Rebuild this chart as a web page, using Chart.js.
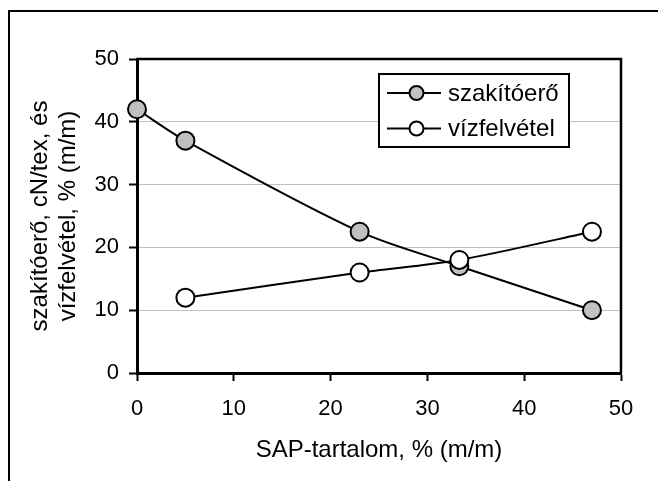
<!DOCTYPE html>
<html>
<head>
<meta charset="utf-8">
<script src="https://cdn.jsdelivr.net/npm/chart.js@4/dist/chart.umd.min.js"></script>
<style>
  html, body { margin: 0; padding: 0; background: #fff; }
  canvas { display: block; }
</style>
</head>
<body>
<canvas id="chart" width="658" height="481"></canvas>
<script>
// data
const sapContent = [0, 5, 23, 33.3, 47];
const tensileForce = [42, 37, 22.5, 17, 10];          // szakítóerő
const waterUptakeX = [5, 23, 33.3, 47];
const waterUptake = [12, 16, 18, 22.5];              // vízfelvétel
const seriesNames = ['szakítóerő', 'vízfelvétel'];
const xTitle = 'SAP-tartalom, % (m/m)';
const yTitle = ['szakítóerő, cN/tex, és', 'vízfelvétel, % (m/m)'];

const FONT = "'Liberation Sans', Arial, sans-serif";
const TICK_SIZE = 22;
const TITLE_SIZE = 24;

const toPoints = (xs, ys) => xs.map((x, i) => ({ x: x, y: ys[i] }));

// frame around the whole picture and the box around the plot area
const framePlugin = {
  id: 'frame',
  beforeDraw(chart) {
    const ctx = chart.ctx;
    ctx.save();
    ctx.fillStyle = '#fff';
    ctx.fillRect(0, 0, chart.width, chart.height);
    ctx.strokeStyle = '#000';
    ctx.lineWidth = 2;
    ctx.beginPath();
    ctx.moveTo(9, chart.height);
    ctx.lineTo(9, 11);
    ctx.lineTo(chart.width, 11);
    ctx.stroke();
    ctx.restore();
  },
  beforeDatasetsDraw(chart) {
    const { ctx, chartArea } = chart;
    ctx.save();
    ctx.strokeStyle = '#000';
    ctx.lineWidth = 2.5;
    ctx.beginPath();
    ctx.moveTo(chartArea.left, chartArea.top);
    ctx.lineTo(chartArea.right, chartArea.top);
    ctx.lineTo(chartArea.right, chartArea.bottom);
    ctx.stroke();
    ctx.restore();
  }
};

// legend box drawn inside the plot area, Excel style
const legendPlugin = {
  id: 'boxLegend',
  afterDraw(chart) {
    const ctx = chart.ctx;
    const box = { x: 379, y: 74, w: 190, h: 73 };
    ctx.save();
    ctx.fillStyle = '#fff';
    ctx.fillRect(box.x, box.y, box.w, box.h);
    ctx.strokeStyle = '#000';
    ctx.lineWidth = 2;
    ctx.strokeRect(box.x, box.y, box.w, box.h);
    chart.data.datasets.forEach((ds, i) => {
      const cy = box.y + 19 + i * 35.5;
      ctx.strokeStyle = '#000';
      ctx.lineWidth = 2;
      ctx.beginPath();
      ctx.moveTo(box.x + 8, cy);
      ctx.lineTo(box.x + 62, cy);
      ctx.stroke();
      ctx.beginPath();
      ctx.arc(box.x + 37.5, cy, 7, 0, Math.PI * 2);
      ctx.fillStyle = ds.pointBackgroundColor;
      ctx.fill();
      ctx.stroke();
      ctx.fillStyle = '#000';
      ctx.font = TITLE_SIZE + 'px ' + FONT;
      ctx.textBaseline = 'middle';
      ctx.textAlign = 'left';
      ctx.fillText(ds.label, box.x + 69, cy + 1);
    });
    ctx.restore();
  }
};

new Chart(document.getElementById('chart'), {
  type: 'scatter',
  data: {
    datasets: [
      {
        label: seriesNames[0],
        data: toPoints(sapContent, tensileForce),
        order: 2,
        showLine: true,
        borderColor: '#000',
        borderWidth: 2,
        pointRadius: 9,
        pointHoverRadius: 9,
        pointBorderWidth: 2,
        pointBorderColor: '#000',
        pointBackgroundColor: '#c0c0c0',
        tension: 0.3,
        clip: false
      },
      {
        label: seriesNames[1],
        data: toPoints(waterUptakeX, waterUptake),
        order: 1,
        showLine: true,
        borderColor: '#000',
        borderWidth: 2,
        pointRadius: 9,
        pointHoverRadius: 9,
        pointBorderWidth: 2,
        pointBorderColor: '#000',
        pointBackgroundColor: '#ffffff',
        tension: 0.3,
        clip: false
      }
    ]
  },
  options: {
    responsive: false,
    animation: false,
    devicePixelRatio: 1,
    layout: { padding: { top: 59, right: 37, left: 0, bottom: 0 } },
    plugins: {
      legend: { display: false },
      tooltip: { enabled: false }
    },
    scales: {
      x: {
        type: 'linear',
        min: 0,
        max: 50,
        afterFit(scale) { scale.height = 108; },
        ticks: {
          stepSize: 10,
          color: '#000',
          padding: 15,
          maxRotation: 0,
          font: { family: FONT, size: TICK_SIZE }
        },
        grid: {
          drawOnChartArea: false,
          drawTicks: true,
          tickLength: 8,
          tickColor: '#000',
          tickWidth: 2
        },
        border: { color: '#000', width: 3 },
        title: {
          display: true,
          text: xTitle,
          color: '#000',
          font: { family: FONT, size: TITLE_SIZE, lineHeight: 1.2 },
          padding: { top: 0, bottom: 16 }
        }
      },
      y: {
        type: 'linear',
        min: 0,
        max: 50,
        afterFit(scale) { scale.width = 137; },
        ticks: {
          stepSize: 10,
          color: '#000',
          padding: 10,
          font: { family: FONT, size: TICK_SIZE }
        },
        grid: {
          color: '#c0c0c0',
          lineWidth: 1,
          drawTicks: true,
          tickLength: 8,
          tickColor: '#000',
          tickWidth: 2
        },
        border: { color: '#000', width: 3 },
        title: {
          display: true,
          text: yTitle,
          color: '#000',
          font: { family: FONT, size: TITLE_SIZE, lineHeight: 1.17 },
          padding: { top: 26, bottom: 0 }
        }
      }
    }
  },
  plugins: [framePlugin, legendPlugin]
});
</script>
</body>
</html>
